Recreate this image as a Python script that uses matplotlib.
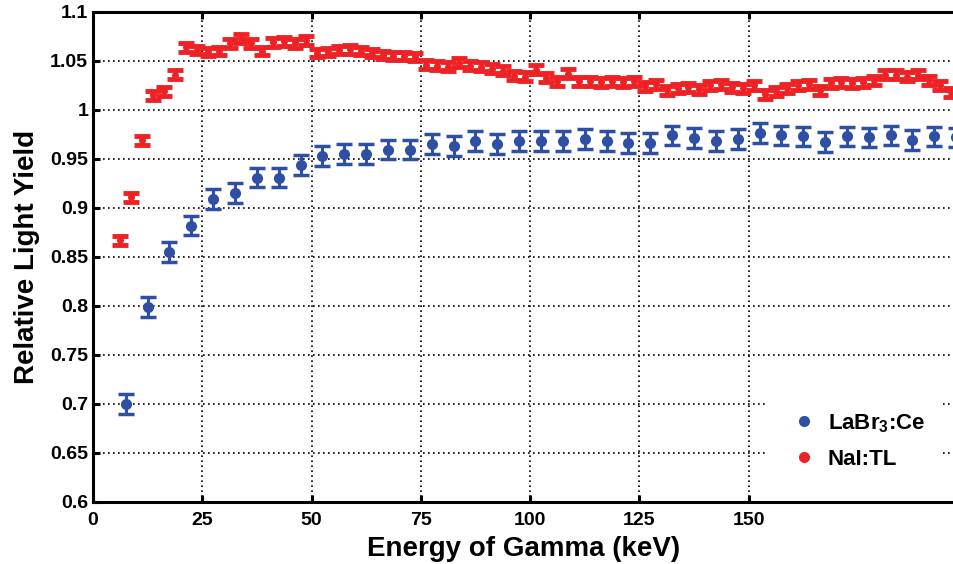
import matplotlib
matplotlib.use("Agg")
import matplotlib.pyplot as plt
from matplotlib.lines import Line2D

plt.rcParams['font.family'] = ['Liberation Sans', 'DejaVu Sans']
plt.rcParams['font.weight'] = 'bold'
plt.rcParams['mathtext.fontset'] = 'custom'
plt.rcParams['mathtext.rm'] = 'Liberation Sans:bold'
plt.rcParams['mathtext.default'] = 'rm'

# LaBr3:Ce data
labr_x = [7.5, 12.5, 17.5, 22.5, 27.5, 32.5, 37.5, 42.5, 47.5, 52.5, 57.5, 62.5, 67.5,
          72.5, 77.5, 82.5, 87.5, 92.5, 97.5, 102.5, 107.5, 112.5, 117.5, 122.5, 127.5,
          132.5, 137.5, 142.5, 147.5, 152.5, 157.5, 162.5, 167.5, 172.5, 177.5, 182.5,
          187.5, 192.5, 197.5]
labr_y = [0.700, 0.799, 0.855, 0.882, 0.909, 0.915, 0.931, 0.931, 0.944, 0.953, 0.955,
          0.955, 0.9595, 0.9595, 0.965, 0.963, 0.968, 0.965, 0.968, 0.968, 0.968, 0.970,
          0.968, 0.966, 0.966, 0.974, 0.971, 0.968, 0.970, 0.9765, 0.974, 0.973, 0.967,
          0.973, 0.972, 0.974, 0.969, 0.973, 0.972]
labr_err = [0.010] * len(labr_x)

# NaI:Tl data
nai_x = [6.25 + 2.5 * i for i in range(77)]
nai_y = [0.867, 0.911, 0.969, 1.015, 1.019, 1.036, 1.064, 1.061, 1.059, 1.060,
         1.068, 1.073, 1.068, 1.060, 1.069, 1.070, 1.068, 1.071, 1.058, 1.059,
         1.061, 1.062, 1.060, 1.058, 1.056, 1.055, 1.055, 1.054, 1.046, 1.045,
         1.044, 1.048, 1.045, 1.044, 1.042, 1.040, 1.035, 1.034, 1.041, 1.033,
         1.029, 1.037, 1.029, 1.029, 1.028, 1.029, 1.028, 1.029, 1.024, 1.026,
         1.020, 1.022, 1.023, 1.021, 1.025, 1.026, 1.023, 1.022, 1.025, 1.016,
         1.019, 1.022, 1.025, 1.026, 1.020, 1.027, 1.028, 1.027, 1.028, 1.030,
         1.036, 1.036, 1.034, 1.036, 1.030, 1.025, 1.018]
nai_err = [0.0045] * len(nai_x)

xticks = [0, 25, 50, 75, 100, 125, 150]
yticks = [0.6, 0.65, 0.7, 0.75, 0.8, 0.85, 0.9, 0.95, 1.0, 1.05, 1.1]
ytick_labels = ['0.6', '0.65', '0.7', '0.75', '0.8', '0.85', '0.9', '0.95', '1', '1.05', '1.1']

blue = '#2E4FA3'
red = '#EE2224'

fig = plt.figure(figsize=(9.54, 5.64), dpi=100)
ax = fig.add_axes([0.0975, 0.110, 0.9025, 0.869])

ax.errorbar(nai_x, nai_y, yerr=nai_err, fmt='o', color=red, ecolor=red,
            markersize=4, elinewidth=3, capsize=5.5, capthick=3.5, zorder=3, clip_on=True)
ax.errorbar(labr_x, labr_y, yerr=labr_err, fmt='o', color=blue, ecolor=blue,
            markersize=7, elinewidth=2.2, capsize=6, capthick=2.5, zorder=4, clip_on=True)

ax.set_xlim(0, 197)
ax.set_ylim(0.6, 1.1)
ax.set_xticks(xticks)
ax.set_xticklabels([str(t) for t in xticks])
ax.set_yticks(yticks)
ax.set_yticklabels(ytick_labels)

ax.grid(True, linestyle=(0, (1, 2)), color='black', linewidth=1.2)
ax.set_axisbelow(True)

for s in ['left', 'bottom', 'top']:
    ax.spines[s].set_linewidth(2.2)
ax.spines['right'].set_visible(False)

ax.tick_params(axis='both', direction='in', length=5, width=2.2, labelsize=14,
               top=True, right=False)
ax.tick_params(axis='x', pad=7)
for lab in ax.get_xticklabels() + ax.get_yticklabels():
    lab.set_fontweight('bold')

ax.set_xlabel('Energy of Gamma (keV)', fontsize=20, fontweight='bold', labelpad=5)
ax.set_ylabel('Relative Light Yield', fontsize=20, fontweight='bold', labelpad=7)

handles = [Line2D([], [], marker='o', linestyle='none', color=blue, markersize=7),
           Line2D([], [], marker='o', linestyle='none', color=red, markersize=7)]
leg = ax.legend(handles, ['LaBr$_3$:Ce', 'NaI:TL'], loc='lower right',
                bbox_to_anchor=(0.995, 0.015), frameon=True, framealpha=1,
                edgecolor='white', facecolor='white',
                prop={'weight': 'bold', 'size': 16}, handletextpad=0.1,
                borderpad=0.6, labelspacing=0.65)

fig.savefig('out.png', dpi=100)
